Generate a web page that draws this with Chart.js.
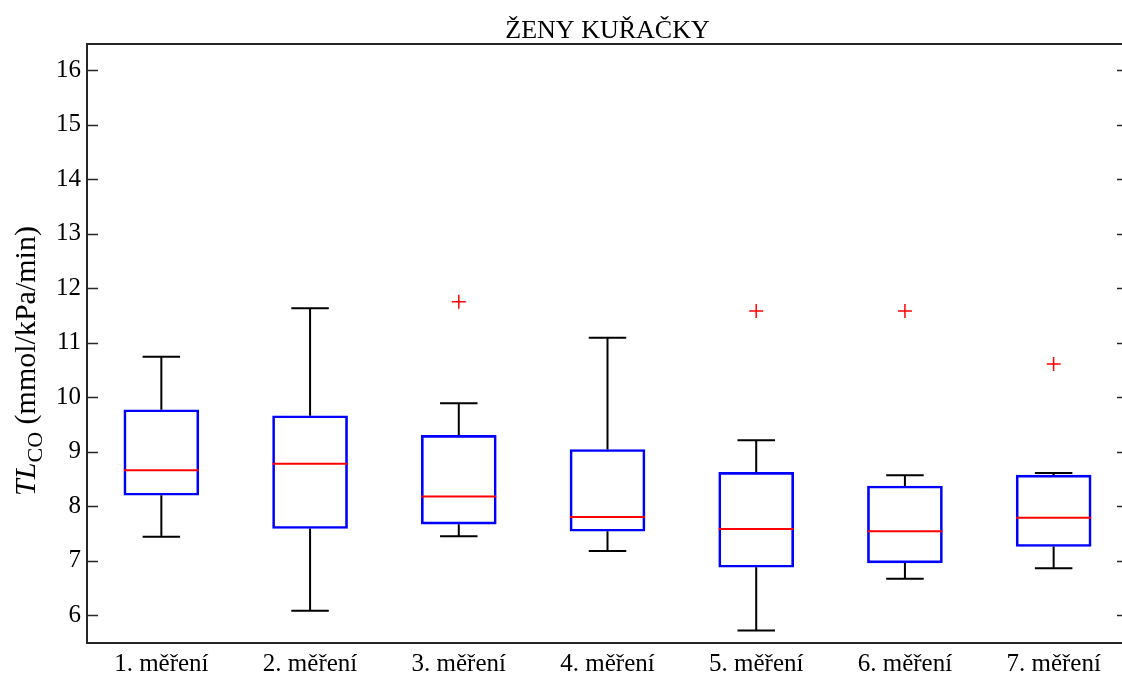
<!DOCTYPE html>
<html>
<head>
<meta charset="utf-8">
<script src="https://cdn.jsdelivr.net/npm/chart.js@4/dist/chart.umd.min.js"></script>
<style>
  html, body { margin: 0; padding: 0; background: #fff; overflow: hidden; }
  canvas { display: block; }
</style>
</head>
<body>
<canvas id="chart" width="1140" height="674"></canvas>
<script>
const labels = ["1. měření", "2. měření", "3. měření", "4. měření", "5. měření", "6. měření", "7. měření"];
const whiskerLow = [7.44, 6.08, 7.45, 7.18, 5.72, 6.67, 6.86];
const q1 = [8.20, 7.59, 7.67, 7.54, 6.88, 6.96, 7.26];
const median = [8.66, 8.78, 8.18, 7.80, 7.58, 7.54, 7.79];
const q3 = [9.77, 9.66, 9.30, 9.04, 8.62, 8.37, 8.57];
const whiskerHigh = [10.74, 11.63, 9.89, 11.09, 9.21, 8.57, 8.61];
const outliers = [
  { x: "3. měření", y: 11.75 },
  { x: "5. měření", y: 11.58 },
  { x: "6. měření", y: 11.58 },
  { x: "7. měření", y: 10.61 }
];
const yTicks = [6, 7, 8, 9, 10, 11, 12, 13, 14, 15, 16];

const font = "Liberation Serif";

// medians, whiskers, frame, inward ticks, title and y label
const boxExtras = {
  id: "boxExtras",
  afterDatasetsDraw(chart) {
    const ctx = chart.ctx;
    const y = chart.scales.y;
    const bars = chart.getDatasetMeta(0).data;
    const area = chart.chartArea;

    ctx.save();
    bars.forEach((bar, i) => {
      const cx = bar.x;
      const half = bar.width / 2;
      const cap = bar.width / 4;
      ctx.strokeStyle = "#000";
      ctx.lineWidth = 2;
      ctx.beginPath();
      ctx.moveTo(cx, y.getPixelForValue(q3[i]));
      ctx.lineTo(cx, y.getPixelForValue(whiskerHigh[i]));
      ctx.moveTo(cx - cap, y.getPixelForValue(whiskerHigh[i]));
      ctx.lineTo(cx + cap, y.getPixelForValue(whiskerHigh[i]));
      ctx.moveTo(cx, y.getPixelForValue(q1[i]));
      ctx.lineTo(cx, y.getPixelForValue(whiskerLow[i]));
      ctx.moveTo(cx - cap, y.getPixelForValue(whiskerLow[i]));
      ctx.lineTo(cx + cap, y.getPixelForValue(whiskerLow[i]));
      ctx.stroke();

      ctx.strokeStyle = "#ff0000";
      ctx.beginPath();
      ctx.moveTo(cx - half, y.getPixelForValue(median[i]));
      ctx.lineTo(cx + half, y.getPixelForValue(median[i]));
      ctx.stroke();
    });

    // frame
    ctx.strokeStyle = "#262626";
    ctx.lineWidth = 2;
    ctx.strokeRect(area.left, area.top, area.right - area.left, area.bottom - area.top);

    // inward ticks on both sides
    ctx.lineWidth = 1.5;
    ctx.beginPath();
    yTicks.forEach(t => {
      const py = Math.round(y.getPixelForValue(t)) + 0.5;
      ctx.moveTo(area.left, py);
      ctx.lineTo(area.left + 11, py);
      ctx.moveTo(area.right, py);
      ctx.lineTo(area.right - 11, py);
    });
    ctx.stroke();

    // title
    ctx.fillStyle = "#000";
    ctx.font = "26px '" + font + "'";
    ctx.textAlign = "center";
    ctx.textBaseline = "alphabetic";
    ctx.fillText("ŽENY KUŘAČKY", (area.left + area.right) / 2, 38);

    // y axis label: TL_CO (mmol/kPa/min)
    const mainFont = "30px '" + font + "'";
    const italFont = "italic 30px '" + font + "'";
    const subFont = "22px '" + font + "'";
    ctx.font = italFont;
    const w1 = ctx.measureText("TL").width;
    ctx.font = subFont;
    const w2 = ctx.measureText("CO").width;
    ctx.font = mainFont;
    const w3 = ctx.measureText(" (mmol/kPa/min)").width;
    const total = w1 + w2 + w3;
    ctx.translate(35, 361);
    ctx.rotate(-Math.PI / 2);
    ctx.textAlign = "left";
    let px = -total / 2;
    ctx.font = italFont;
    ctx.fillText("TL", px, 0);
    px += w1;
    ctx.font = subFont;
    ctx.fillText("CO", px, 7);
    px += w2;
    ctx.font = mainFont;
    ctx.fillText(" (mmol/kPa/min)", px, 0);
    ctx.restore();
  }
};

new Chart(document.getElementById("chart"), {
  type: "bar",
  data: {
    labels: labels,
    datasets: [
      {
        label: "box",
        data: q1.map((v, i) => [v, q3[i]]),
        backgroundColor: "rgba(0,0,0,0)",
        borderColor: "#0000ff",
        borderWidth: 2,
        borderSkipped: false,
        barThickness: 75
      },
      {
        type: "scatter",
        label: "outliers",
        data: outliers,
        pointStyle: "cross",
        radius: 7,
        borderColor: "#ff0000",
        borderWidth: 1.5
      }
    ]
  },
  options: {
    responsive: false,
    animation: false,
    devicePixelRatio: 1,
    layout: { padding: { top: 44, right: 12, left: 0, bottom: 0 } },
    plugins: {
      legend: { display: false },
      tooltip: { enabled: false },
      title: { display: false }
    },
    scales: {
      x: {
        type: "category",
        offset: true,
        grid: { display: false, drawTicks: false },
        border: { display: false },
        ticks: { color: "#000", font: { family: font, size: 25 }, padding: 6, maxRotation: 0 },
        afterFit: s => { s.height = 31; }
      },
      y: {
        min: 5.49,
        max: 16.48,
        grid: { display: false, drawTicks: false },
        border: { display: false },
        ticks: {
          stepSize: 1,
          includeBounds: false,
          color: "#000",
          font: { family: font, size: 25 },
          padding: 6
        },
        afterFit: s => { s.width = 87; }
      }
    }
  },
  plugins: [boxExtras]
});
</script>
</body>
</html>
